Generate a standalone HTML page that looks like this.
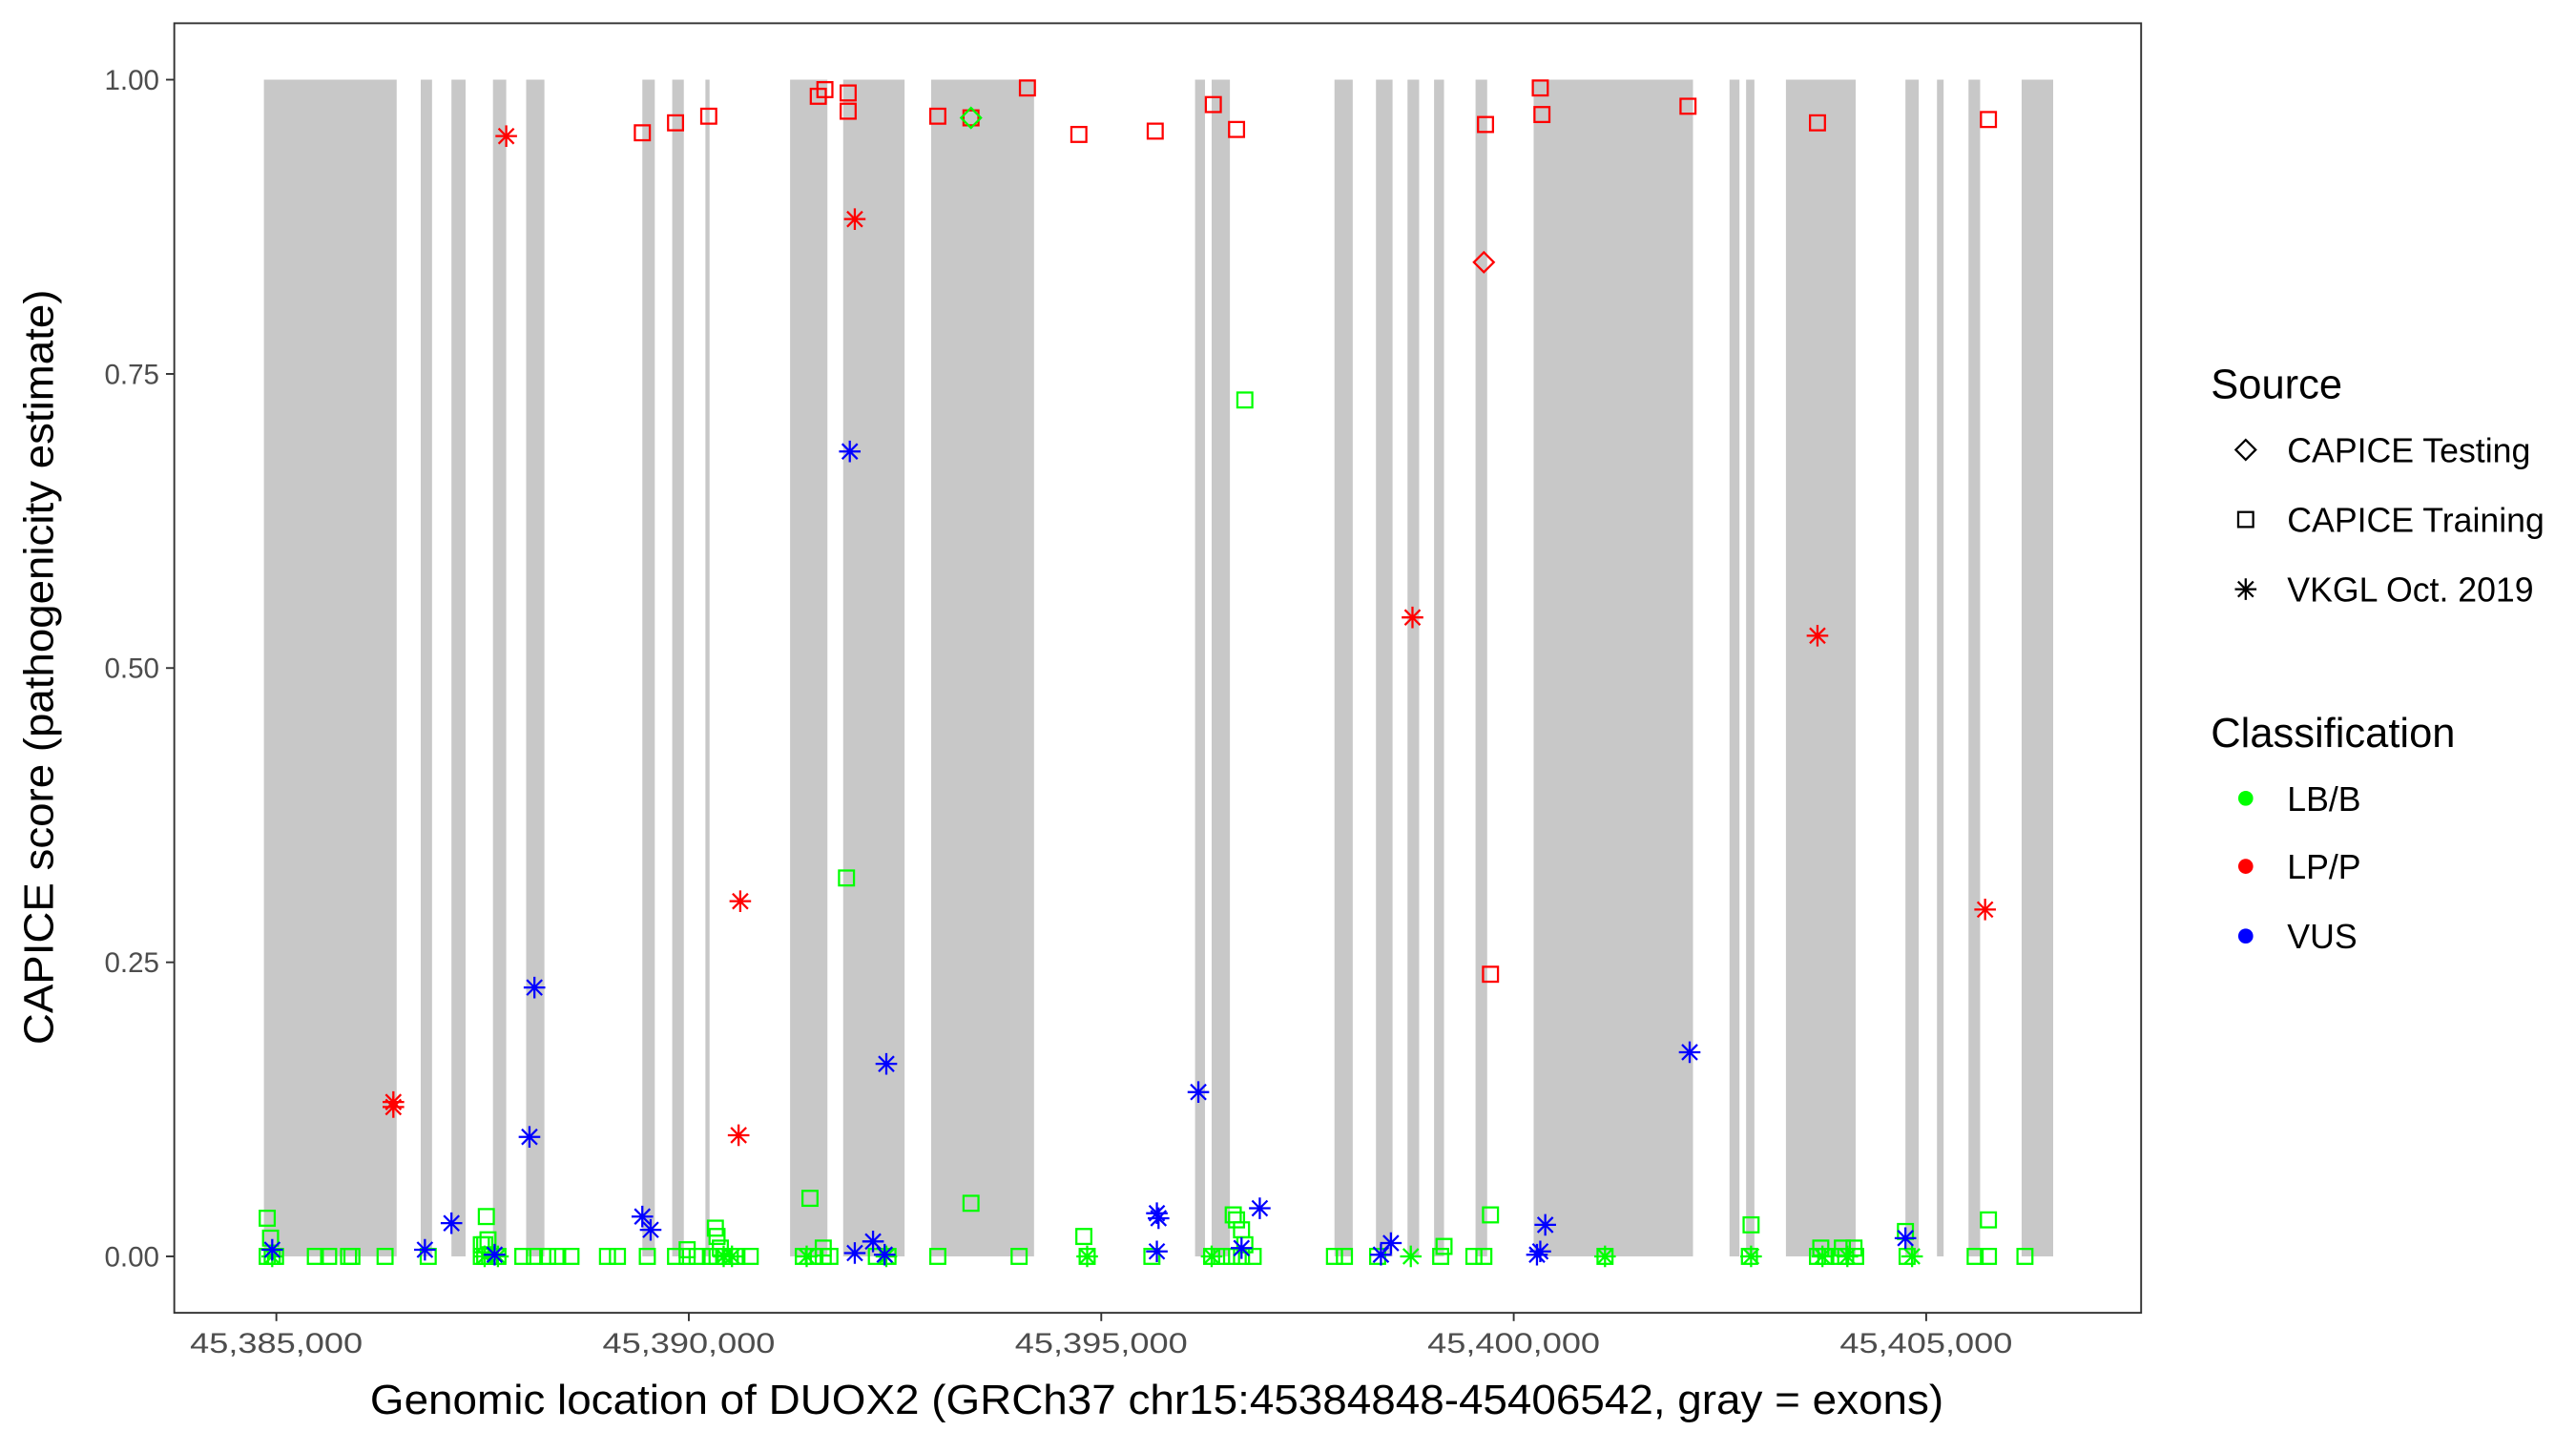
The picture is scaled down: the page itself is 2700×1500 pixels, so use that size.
<!DOCTYPE html>
<html><head><meta charset="utf-8"><style>
html,body{margin:0;padding:0;background:#fff;}
svg{display:block;}
text{font-family:"Liberation Sans",Arial,sans-serif;}
</style></head><body>
<svg id="s" width="2700" height="1500" viewBox="0 0 1552 862.2" xmlns="http://www.w3.org/2000/svg">
<rect x="0" y="0" width="1552" height="862.2" fill="#fff"/>
<g id="exons" fill="#c8c8c8"></g>
<g id="pts"></g>
<rect x="105" y="14" width="1185" height="777" fill="none" stroke="#333" stroke-width="1.1"/>
<g stroke="#333" stroke-width="1.1">
<line x1="100" y1="48" x2="105" y2="48"/><line x1="100" y1="225.3" x2="105" y2="225.3"/>
<line x1="100" y1="402.5" x2="105" y2="402.5"/><line x1="100" y1="579.8" x2="105" y2="579.8"/>
<line x1="100" y1="757" x2="105" y2="757"/>
<line x1="166.5" y1="791" x2="166.5" y2="796"/><line x1="415" y1="791" x2="415" y2="796"/>
<line x1="663.5" y1="791" x2="663.5" y2="796"/><line x1="912" y1="791" x2="912" y2="796"/>
<line x1="1160.5" y1="791" x2="1160.5" y2="796"/>
</g>
<g fill="#4d4d4d" font-size="17" text-anchor="end">
<text x="96" y="54">1.00</text><text x="96" y="231.3">0.75</text><text x="96" y="408.5">0.50</text>
<text x="96" y="585.8">0.25</text><text x="96" y="763">0.00</text>
</g>
<g fill="#4d4d4d" font-size="17" text-anchor="middle">
<text x="166.5" y="815" textLength="104" lengthAdjust="spacingAndGlyphs">45,385,000</text>
<text x="415" y="815" textLength="104" lengthAdjust="spacingAndGlyphs">45,390,000</text>
<text x="663.5" y="815" textLength="104" lengthAdjust="spacingAndGlyphs">45,395,000</text>
<text x="912" y="815" textLength="104" lengthAdjust="spacingAndGlyphs">45,400,000</text>
<text x="1160.5" y="815" textLength="104" lengthAdjust="spacingAndGlyphs">45,405,000</text>
</g>
<text x="697" y="852" font-size="25" text-anchor="middle" fill="#000" textLength="948" lengthAdjust="spacingAndGlyphs">Genomic location of DUOX2 (GRCh37 chr15:45384848-45406542, gray = exons)</text>
<text transform="translate(32,402) rotate(-90)" font-size="25" text-anchor="middle" fill="#000" textLength="455" lengthAdjust="spacingAndGlyphs">CAPICE score (pathogenicity estimate)</text>
<g font-size="25" fill="#000"><text x="1332" y="240">Source</text><text x="1332" y="450">Classification</text></g>
<g font-size="20.5" fill="#000">
<text x="1378" y="278.5">CAPICE Testing</text><text x="1378" y="320.5">CAPICE Training</text>
<text x="1378" y="362.5">VKGL Oct. 2019</text>
<text x="1378" y="488.5">LB/B</text><text x="1378" y="529.5">LP/P</text><text x="1378" y="571.5">VUS</text>
</g>
<g id="leg"></g>
</svg>
<script>
var NS="http://www.w3.org/2000/svg";
function el(p,t,a){var e=document.createElementNS(NS,t);for(var k in a)e.setAttribute(k,a[k]);p.appendChild(e);return e;}
var ex=[[159,239],[253.5,260.3],[272,280.5],[297,305],[317,328],[387,394.5],[405,412],[425,427.5],[476,498.5],[508,545],[561,623],[720,726],[730,741],[804,815],[829,839],[848,855],[864,870],[889,896],[924,1020],[1042,1048],[1052,1057],[1076,1118],[1148,1156],[1167,1171],[1186,1193],[1218,1237]];
var eg=document.getElementById('exons');
ex.forEach(function(e){el(eg,'rect',{x:e[0],y:48,width:e[1]-e[0],height:709});});
var g=document.getElementById('pts');
var R="#ff0000",G="#00ff00",B="#0000ff";
function sq(x,y,c,p){p=p||g;el(p,'rect',{x:x-4.5,y:y-4.5,width:9,height:9,fill:'none',stroke:c,'stroke-width':1.3});}
function di(x,y,c,p){p=p||g;el(p,'polygon',{points:(x)+','+(y-6)+' '+(x+6)+','+y+' '+x+','+(y+6)+' '+(x-6)+','+y,fill:'none',stroke:c,'stroke-width':1.3});}
function st(x,y,c,p){p=p||g;var r=6.5,d=4.6;
el(p,'path',{d:'M'+x+' '+(y-r)+'V'+(y+r)+'M'+(x-d)+' '+(y-d)+'L'+(x+d)+' '+(y+d)+'M'+(x-d)+' '+(y+d)+'L'+(x+d)+' '+(y-d)+'M'+(x-r)+' '+y+'H'+(x+r),stroke:c,'stroke-width':1.3,fill:'none'});}
[161,164,166,190,198,210,212,232,258,290,292,295,300,315,322,330,336,344,366,372,390,407,414,420,428,432,436,440,444,452,484,490,496,500,528,535,565,614,655,694,730,736,742,748,755,804,810,830,868,888,894,967,1054,1095,1100,1108,1112,1118,1149,1190,1198,1220].forEach(function(x){sq(x,757,G);});
[[161,734],[163,746],[293,733],[292,750],[431,740],[432,745],[488,722],[510,529],[585,725],[653,745],[750,241],[743,732],[745,735],[748,741],[750,750],[898,732],[870,751],[1055,738],[1097,752],[1110,752],[1117,752],[1148,742],[1198,735],[496,752],[414,753],[434,752],[290,750],[294,747]].forEach(function(p){sq(p[0],p[1],G);});
[164,292,300,436,441,486,534,655,730,850,967,1055,1098,1113,1152].forEach(function(x){st(x,757,G);});
[[512,272],[322,595],[319,685],[534,641],[722,658],[1018,634],[272,737],[256,753],[387,733],[392,741],[298,756],[164,753],[526,748],[515,755],[533,756],[697,731],[698,734],[697,754],[759,728],[748,752],[838,749],[832,756],[931,738],[928,754],[926,756],[1148,746]].forEach(function(p){st(p[0],p[1],B);});
[[387,80],[407,74],[427,70],[493,58],[497,54],[511,56],[511,67],[565,70],[585,71],[619,53],[650,81],[696,79],[731,63],[745,78],[895,75],[928,53],[929,69],[1017,64],[1095,74],[1198,72],[898,587]].forEach(function(p){sq(p[0],p[1],R);});
di(894,158,R); di(585,71,G);
[[305,82],[237,664],[237,667],[515,132],[446,543],[445,684],[851,372],[1095,383],[1196,548]].forEach(function(p){st(p[0],p[1],R);});
var l=document.getElementById('leg');
di(1353,271,'#000',l); sq(1353,313,'#000',l); st(1353,355,'#000',l);
el(l,'circle',{cx:1353,cy:481,r:4.5,fill:G});el(l,'circle',{cx:1353,cy:522,r:4.5,fill:R});el(l,'circle',{cx:1353,cy:564,r:4.5,fill:B});
</script>
</body></html>
